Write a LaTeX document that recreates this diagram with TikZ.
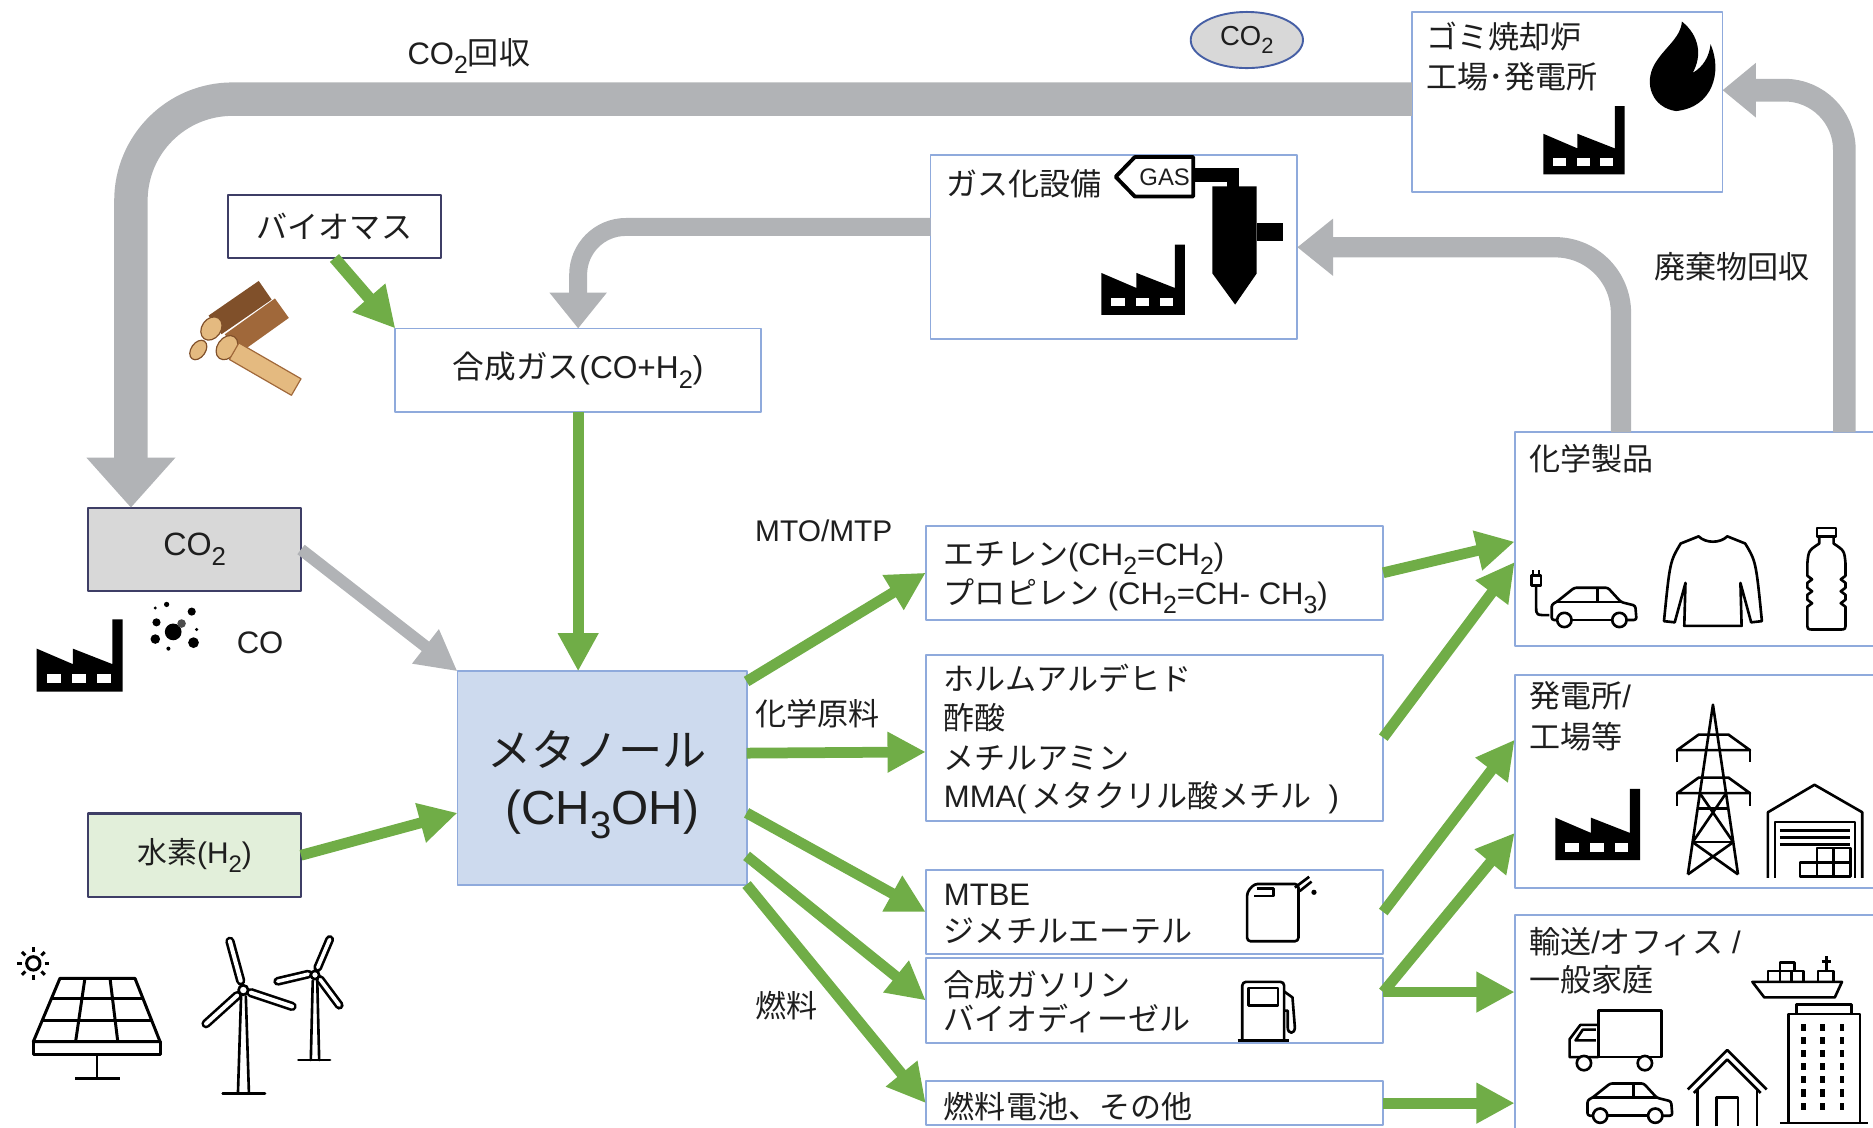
\documentclass[tikz,border=0pt]{standalone}
\usepackage{fontspec}
\usepackage{graphicx}
\setmainfont{Liberation Sans}
\newfontfamily\jpfont{Noto Sans CJK JP}
\usetikzlibrary{arrows.meta,calc,shapes.geometric}
\newcommand{\J}[1]{{\jpfont #1}}
\newcommand{\lo}[1]{\raisebox{-0.3em}{\scalebox{0.8}{#1}}}

\definecolor{leaf}{RGB}{112,173,71}
\definecolor{pipe}{RGB}{177,179,182}
\definecolor{edge}{RGB}{143,170,220}
\definecolor{navy}{RGB}{62,62,102}
\definecolor{methfill}{RGB}{205,218,238}
\definecolor{hfill}{RGB}{226,239,218}
\definecolor{cfill}{RGB}{216,216,216}
\definecolor{ellblue}{RGB}{70,95,165}
\definecolor{ink}{RGB}{30,30,30}
\definecolor{bark}{RGB}{128,80,42}
\definecolor{barklight}{RGB}{160,104,58}
\definecolor{wood}{RGB}{228,186,128}

\begin{document}
\begin{tikzpicture}[x=1pt,y=-1pt,line join=round,
  box/.style={draw=edge,line width=1.6pt,fill=white,inner sep=0pt,outer sep=0pt},
  darkbox/.style={draw=navy,line width=1.8pt,inner sep=0pt,outer sep=0pt},
  lbl/.style={anchor=base west,inner sep=0pt,text=ink,font=\fontsize{26}{31}\selectfont},
  flow/.style={draw=leaf,line width=9pt,-{Triangle[length=32pt,width=32pt]}},
  back/.style={draw=pipe},
  icon/.style={draw=black,line width=2.4pt},
  factory/.pic={
    \fill[black] (0,0) -- (0,-0.5) -- (0.42,-0.32) -- (0.42,-0.5) -- (0.88,-0.32)
      -- (0.88,-0.84) -- (1,-0.84) -- (1,0) -- cycle;
    \fill[white] (0.12,-0.1) rectangle (0.28,-0.2);
    \fill[white] (0.41,-0.1) rectangle (0.57,-0.2);
    \fill[white] (0.70,-0.1) rectangle (0.86,-0.2);
  },
  car/.pic={
    \draw[icon,line width=2.2pt,rounded corners=2pt] (6.6,-8) -- (2,-8) -- (2,-21) -- (6,-23)
      -- (21,-35) -- (49,-35) -- (60,-23) -- (72,-20) -- (73,-8) -- (64.7,-8);
    \draw[icon,line width=2.2pt] (18.6,-8) -- (52.7,-8);
    \draw[icon,line width=2.2pt] (6,-23) -- (60,-23) (40.5,-35) -- (40.5,-23);
    \draw[icon,line width=2.2pt,fill=white] (12.6,-8) circle (6) (58.7,-8) circle (6);
  }]
\useasboundingbox (0,0) rectangle (1568,944);

% ---------------- boxes ----------------
\node[darkbox,fill=white,minimum width=178pt,minimum height=53pt,text=ink,
  font=\fontsize{26}{31}\selectfont] (biomass) at (280,189.5) {\J{バイオマス}};
\node[box,minimum width=306pt,minimum height=70pt,text=ink,
  font=\fontsize{26.5}{31}\selectfont] (gosei) at (484,310) {\J{合成ガス}(CO+H\lo{2})};
\node[darkbox,fill=cfill,minimum width=178pt,minimum height=70pt,text=ink,
  font=\fontsize{27}{31}\selectfont] (co2box) at (163,460) {CO\lo{2}};
\node[darkbox,fill=hfill,minimum width=178pt,minimum height=70pt,text=ink,
  font=\fontsize{25}{30}\selectfont] (h2box) at (163,716) {\J{水素}(H\lo{2})};
\node[box,fill=methfill,minimum width=242pt,minimum height=179pt] (metha) at (504,651.5) {};
\node[box,minimum width=307pt,minimum height=154pt] (gasu) at (932.5,207) {};
\node[box,minimum width=260pt,minimum height=151pt] (gomi) at (1312,85.5) {};
\node[box,minimum width=383pt,minimum height=79pt] (ethy) at (966.5,479.5) {};
\node[box,minimum width=383pt,minimum height=139pt] (formal) at (966.5,617.5) {};
\node[box,minimum width=383pt,minimum height=71pt] (mtbe) at (966.5,763.5) {};
\node[box,minimum width=383pt,minimum height=71pt] (gaso) at (966.5,837.5) {};
\node[box,minimum width=383pt,minimum height=37pt] (fc) at (966.5,923.5) {};
\node[box,minimum width=322pt,minimum height=179pt] (kagaku) at (1429,451.5) {};
\node[box,minimum width=322pt,minimum height=178.5pt] (hatsu) at (1429,654.25) {};
\node[box,minimum width=322pt,minimum height=194pt] (yuso) at (1429,863) {};
\node[ellipse,draw=ellblue,fill=cfill,line width=1.6pt,minimum width=94pt,minimum height=47pt,
  inner sep=0pt,text=ink,font=\fontsize{23}{27}\selectfont] (cloud) at (1043.8,33.5) {CO\lo{2}};

% ---------------- recovery loops ----------------
\coordinate (co2in) at ($(co2box.north west)!0.2!(co2box.north east)$);
\coordinate (wasteout) at ([xshift=89pt]kagaku.north west);
\coordinate (burnout) at ([xshift=276pt]kagaku.north west);
\draw[back,line width=28pt,rounded corners=85pt,-{Triangle[length=42pt,width=72pt]}]
  ([yshift=2.5pt]gomi.west) -| (co2in);
\draw[back,line width=17pt,rounded corners=55pt,-{Triangle[length=30pt,width=46pt]}]
  (wasteout) |- (gasu.east);
\draw[back,line width=19pt,rounded corners=50pt,-{Triangle[length=28pt,width=44pt]}]
  (burnout) |- ([yshift=10pt]gomi.east);
\draw[back,line width=15pt,rounded corners=40pt,-{Triangle[length=30pt,width=46pt]}]
  ([yshift=17pt]gasu.west) -| (gosei.north);
\draw[back,line width=10pt,-{Triangle[length=34pt,width=34pt]}] (co2box.east) -- (metha.north west);

% ---------------- methanol routes ----------------
\draw[flow,line width=10pt,-{Triangle[length=34pt,width=34pt]}] (biomass.south) -- (gosei.north west);
\draw[flow] (gosei.south) -- (gosei.south |- metha.north);
\draw[flow] (h2box.east) -- ([yshift=-29pt]metha.west);

\coordinate (m1) at ([yshift=81pt]metha.east);
\coordinate (m2) at ([yshift=21pt]metha.east);
\coordinate (m3) at ([yshift=-29pt]metha.east);
\coordinate (m4) at ([yshift=-65pt]metha.east);
\coordinate (m5) at ([yshift=-89pt]metha.east);
\draw[flow] (m1) -- (ethy.west);
\draw[flow] (m2) -- ([yshift=-12pt]formal.west);
\draw[flow] (m3) -- (mtbe.west);
\draw[flow] (m4) -- (gaso.west);
\draw[flow] (m5) -- (fc.west);

\coordinate (gs) at ([yshift=7pt]gaso.east);
\draw[flow] (ethy.east) -- ([yshift=-2pt]kagaku.west);
\draw[flow] (formal.east) -- ([yshift=-19pt]kagaku.west);
\draw[flow] (mtbe.east) -- ([yshift=35pt]hatsu.west);
\draw[flow] (gs) -- ([yshift=-43pt]hatsu.west);
\draw[flow] (gs) -- (gs -| yuso.west);
\draw[flow] (fc.east) -- (fc.east -| yuso.west);

% ---------------- texts ----------------
\node[lbl,font=\fontsize{26}{30}\selectfont] (rec) at (341,54) {CO\lo{2}\J{回収}};
\node[lbl,font=\fontsize{26}{30}\selectfont] (waste) at (1385,233) {\J{廃棄物回収}};
\node[lbl] (gomi1) at (1194,41) {\J{ゴミ焼却炉}};
\node[lbl] (gomi2) at (1194,74) {\J{工場･発電所}};
\node[lbl] (gasut) at (792,164) {\J{ガス化設備}};
\node[anchor=base,inner sep=0pt,text=ink,font=\fontsize{37}{44}\selectfont] (mt1) at (500,642) {\J{メタノール}};
\node[anchor=base,inner sep=0pt,text=ink,font=\fontsize{40}{46}\selectfont] (mt2) at (504,690) {(CH\lo{3}OH)};
\node[lbl,font=\fontsize{25}{30}\selectfont] (lmto) at (632,453) {MTO/MTP};
\node[lbl] (lchem) at (632,607) {\J{化学原料}};
\node[lbl] (lfuel) at (632,852) {\J{燃料}};
\node[lbl,font=\fontsize{26}{30}\selectfont] (co) at (198,547) {CO};

\node[lbl] (e1) at (790,473) {\J{エチレン}(CH\lo{2}=CH\lo{2})};
\node[lbl] (e2) at (790,506) {\J{プロピレン} (CH\lo{2}=CH- CH\lo{3})};
\node[lbl] (f1) at (790,578) {\J{ホルムアルデヒド}};
\node[lbl] (f2) at (790,611) {\J{酢酸}};
\node[lbl] (f3) at (790,644) {\J{メチルアミン}};
\node[lbl] (f4) at (790,676) {MMA(\,\J{メタクリル酸メチル}\ \ )};
\node[lbl] (t1) at (790,758) {MTBE};
\node[lbl] (t2) at (790,789) {\J{ジメチルエーテル}};
\node[lbl] (s1) at (790,834) {\J{合成ガソリン}};
\node[lbl] (s2) at (790,863) {\J{バイオディーゼル}};
\node[lbl] (c1) at (790,936) {\J{燃料電池、その他}};
\node[lbl] (k1) at (1280,394) {\J{化学製品}};
\node[lbl] (h1) at (1280,592) {\J{発電所}/};
\node[lbl] (h2) at (1280,627) {\J{工場等}};
\node[lbl] (y1) at (1280,798) {\J{輸送}/\J{オフィス} /};
\node[lbl] (y2) at (1280,830) {\J{一般家庭}};

% ---------------- factories ----------------
\pic[scale=72] at (30.7,579) {factory};
\pic[scale=70] at (922,263.5) {factory};
\pic[scale=68] at (1292,146) {factory};
\pic[scale=71] at (1302,720) {factory};

% smoke particles
\fill[black] (145,529) circle (7) (131,521) circle (3.4) (139.5,506) circle (2.2)
  (160.5,512) circle (3.4) (130,535) circle (4) (162,538) circle (4.5)
  (141,543) circle (1.7) (164.6,527) circle (1.4) (130,509) circle (1.4);
\fill[black!70] (152,522) circle (3.6);

% ---------------- gasifier ----------------
\draw[line width=3.2pt,fill=white] (934,148) -- (950,131.5) -- (999,131.5) -- (999,164.5)
  -- (950,164.5) -- cycle;
\node[inner sep=0pt,text=ink,font=\fontsize{20}{22}\selectfont] (gastag) at (975,148) {GAS};
\fill[black] (999,141) rectangle (1037,152);
\fill[black] (1027,141) rectangle (1037,158);
\fill[black] (1015,156) -- (1052,156) -- (1052,229) -- (1034,255) -- (1015,229) -- cycle;
\fill[black] (1052,187) rectangle (1074,202);

% ---------------- flame ----------------
\fill[black] (1403,93)
  .. controls (1383,90) and (1376,70) .. (1385,54)
  .. controls (1393,40) and (1407,32) .. (1408,18)
  .. controls (1423,30) and (1425,47) .. (1417,61)
  .. controls (1426,56) and (1431,47) .. (1432,37)
  .. controls (1442,60) and (1434,90) .. (1403,93) -- cycle;

% ---------------- logs ----------------
\draw[line width=20pt,draw=barklight] (236,258) -- (194,288);
\fill[wood,draw=bark,line width=1pt,rotate around={-35:(190,291)}] (190,291) ellipse (8 and 11);
\draw[line width=19pt,draw=bark] (222,243) -- (180,272);
\fill[wood,draw=bark,line width=1pt,rotate around={-35:(177,275)}] (177,275) ellipse (8 and 10.5);
\fill[wood,draw=bark,line width=1pt,rotate around={-35:(166,293)}] (166,293) ellipse (6 and 9);
\fill[wood,draw=barklight,line width=1pt,rotate around={-30:(222,309)}]
  (192,301) rectangle (252,317);

% ---------------- solar panel ----------------
\begin{scope}[icon,line width=2.5pt]
  \draw (50.2,819) -- (113,819) -- (134,872) -- (27.9,872) -- cycle;
  \draw (27.9,872) rectangle (134.5,883);
  \draw (43.1,835.8) -- (119.7,835.8) (35.5,854) -- (126.9,854);
  \draw (71.1,819) -- (63.3,872) (92.1,819) -- (98.6,872);
  \draw (81.2,883) -- (81.2,902.7) (62.8,902.7) -- (100.5,902.7);
  \draw (27.9,806.5) circle (5.6);
  \foreach \a in {0,45,...,315} \draw ($(27.9,806.5)+(\a:9.5)$) -- ($(27.9,806.5)+(\a:13.5)$);
\end{scope}

% ---------------- wind turbines ----------------
\begin{scope}[line width=2.2pt,line cap=round]
  \draw (201.8,834) -- (199.2,915.3) (205.8,834) -- (208.4,915.3);
  \draw (186.4,915.3) -- (221.8,915.3);
  \draw[double=white,double distance=3.4pt] (201.5,821) -- (192.5,788);
  \draw[double=white,double distance=3.4pt] (210,831) -- (244.5,842.5);
  \draw[double=white,double distance=3.4pt] (198.5,833.5) -- (172.5,857);
  \draw[fill=white] (203.7,828.8) circle (4);
  \draw (261.8,821) -- (260.2,887.4) (265.6,821) -- (267.2,887.4);
  \draw (249.8,887.4) -- (276.3,887.4);
  \draw[double=white,double distance=3pt] (266,810) -- (276,786.5);
  \draw[double=white,double distance=3pt] (268,820) -- (284,841.5);
  \draw[double=white,double distance=3pt] (258,815.5) -- (232.5,821.5);
  \draw[fill=white] (263.7,816.2) circle (3.5);
\end{scope}

% ---------------- chemical products ----------------
\pic at (1297,527) {car};
\begin{scope}[icon,line width=2.2pt]
  \draw (1286,490) -- (1286,508) .. controls (1286,515) .. (1297,515);
  \draw (1282,482) rectangle (1290,490);
  \draw (1283.5,482) -- (1283.5,477) (1288.5,482) -- (1288.5,477);
  % shirt
  \draw (1422,449) -- (1407,455) .. controls (1398,470) .. (1393,520) -- (1402,521)
    -- (1411,488) -- (1410,524) -- (1458,524) -- (1457,488) -- (1466,521) -- (1475,520)
    .. controls (1470,470) .. (1461,455) -- (1446,449)
    .. controls (1440,455) and (1428,455) .. (1422,449) -- cycle;
  % bottle
  \draw (1521,442) rectangle (1537,449);
  \draw (1523,449) -- (1523,455) .. controls (1514,461) .. (1513,472) -- (1513,482)
    -- (1517,485) -- (1513,488) -- (1513,492) -- (1517,495) -- (1513,498) -- (1513,502)
    -- (1517,505) -- (1513,508) -- (1513,521) .. controls (1513,527) .. (1518,527)
    -- (1540,527) .. controls (1545,527) .. (1545,521) -- (1545,508) -- (1541,505)
    -- (1545,502) -- (1545,498) -- (1541,495) -- (1545,492) -- (1545,488) -- (1541,485)
    -- (1545,482) -- (1545,472) .. controls (1544,461) .. (1535,455) -- (1535,449);
\end{scope}

% ---------------- power tower and warehouse ----------------
\begin{scope}[icon,line width=2.2pt]
  \draw (1413,732) -- (1434,590) -- (1455,732);
  \draw (1404,628) -- (1422,615) -- (1447,615) -- (1465,628) -- cycle;
  \draw (1404,628) -- (1404,638) (1465,628) -- (1465,638);
  \draw (1404,664) -- (1422,651) -- (1447,651) -- (1465,664) -- cycle;
  \draw (1404,664) -- (1404,675) (1465,664) -- (1465,675);
  \draw (1421,677) -- (1447,677) (1417,705) -- (1451,705);
  \draw (1423,664) -- (1451,705) (1445,664) -- (1417,705);
  \draw (1417,705) -- (1455,732) (1451,705) -- (1413,732);
  % warehouse
  \draw (1480,735) -- (1480,680) -- (1519,657) -- (1559,680) -- (1559,735);
  \draw (1486,735) -- (1486,688) -- (1553,688) -- (1553,735);
  \draw (1490,695) -- (1549,695) (1490,701) -- (1549,701) (1490,707) -- (1549,707);
  \draw (1507,722) rectangle (1549,734);
  \draw (1521,722) -- (1521,734) (1535,722) -- (1535,734);
  \draw (1521,710) rectangle (1549,722) (1535,710) -- (1535,722);
\end{scope}

% ---------------- transport / homes ----------------
\begin{scope}[icon,line width=2.2pt]
  % ship
  \draw (1467,822) -- (1542,822) -- (1536,835) -- (1477,835) -- cycle;
  \draw (1480,822) rectangle (1510,813);
  \draw (1490,813) rectangle (1502,806);
  \draw (1490,813) -- (1490,822) (1500,813) -- (1500,822);
  \draw (1522,822) -- (1522,813) -- (1535,813) -- (1535,822);
  \draw (1529,813) -- (1529,800) (1525,805) -- (1533,805);
  % truck
  \draw (1338,846) rectangle (1391,885);
  \draw (1338,858) -- (1323,858) -- (1314,870) -- (1314,885) -- (1338,885);
  \draw (1336,862) -- (1325,862) -- (1319,871) -- (1336,871);
  \draw[fill=white] (1326,890) circle (6) (1377,890) circle (6);
  % house
  \draw (1413,912) -- (1446,879) -- (1479,912);
  \draw (1418,915) -- (1446,887) -- (1474,915);
  \draw (1421,912) -- (1421,943) (1471,912) -- (1471,943);
  \draw (1437,943) -- (1437,919) -- (1455,919) -- (1455,943);
  % office building
  \draw (1504,849) -- (1504,841) -- (1550,841) -- (1550,849);
  \draw (1497,940) -- (1497,849) -- (1557,849) -- (1557,940);
  \draw (1490,940) -- (1564,940);
\end{scope}
\foreach \c in {1508,1524,1540} \foreach \r in {857,868,...,925} \fill[black] (\c,\r) rectangle ++(4,6);
\pic at (1327,942) {car};

% ---------------- fuel containers ----------------
\begin{scope}[icon,line width=2.2pt]
  \draw[rounded corners=3pt] (1050,740) -- (1044,747) -- (1044,788) -- (1087,788) -- (1087,740) -- cycle;
  \draw (1052,744) -- (1066,744) -- (1066,750) -- (1050,750);
  \draw (1084,743) -- (1096,734);
  \draw (1088,746) -- (1098,738);
  \fill (1100,747) circle (2.2);
  % pump
  \draw[rounded corners=3pt] (1040,871) -- (1040,822) -- (1075,822) -- (1075,871);
  \draw (1036,871) -- (1079,871);
  \draw (1045,827) rectangle (1070,842);
  \draw (1075,830) -- (1082,835) -- (1084,860) .. controls (1084,866) and (1078,866) .. (1078,860) -- (1078,846) -- (1075,846);
\end{scope}

\end{tikzpicture}
\end{document}
